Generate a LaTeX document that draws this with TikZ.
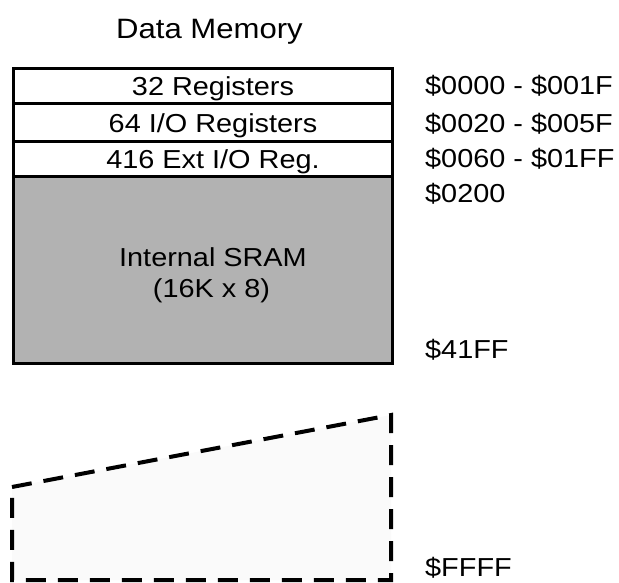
\documentclass[tikz,border=0pt]{standalone}
\usepackage{fontspec}
\setmainfont{Liberation Sans}[FakeStretch=1.11]
\definecolor{srambg}{RGB}{178,178,178}
\definecolor{extbg}{RGB}{250,250,250}
\begin{document}
\begin{tikzpicture}[x=1pt,y=-1pt,
  lbl/.style={font=\fontsize{26}{30}\selectfont, inner sep=0pt, anchor=base},
  regrow/.style={draw, line width=3pt, minimum width=379pt, inner sep=0pt},
  addr/.style={lbl, anchor=base west},
  extmem/.style={draw, line width=4pt, dash pattern=on 20pt off 12pt, fill=extbg}
]
\useasboundingbox (0,0) rectangle (619,582);
\node[lbl, font=\fontsize{28}{30}\selectfont] (title) at (209.5,38) {Data Memory};
% SRAM block
\node[regrow, fill=srambg, minimum height=187pt] (sram) at (202.5,269.5) {};
\node[regrow, minimum height=35pt] (r3) at (202.5,158.5) {};
\node[regrow, minimum height=38pt] (r2) at (202.5,122) {};
\node[regrow, minimum height=35pt] (r1) at (202.5,85.5) {};
\node[lbl] (t1) at (213,95) {32 Registers};
\node[lbl] (t2) at (213,132) {64 I/O Registers};
\node[lbl] (t3) at (213,168) {416 Ext I/O Reg.};
\node[lbl] (t4) at (213,266.5) {Internal SRAM};
\node[lbl] (t5) at (211.5,297) {(16K x 8)};
% external memory
\draw[extmem] (12,487) -- (391,415) -- (391,580) -- (12,580) -- cycle;
% addresses
\node[addr] (a1) at (425,94) {\$0000 - \$001F};
\node[addr] (a2) at (425,132.5) {\$0020 - \$005F};
\node[addr] (a3) at (425,167.5) {\$0060 - \$01FF};
\node[addr] (a4) at (425,202) {\$0200};
\node[addr] (a5) at (425,358.5) {\$41FF};
\node[addr] (a6) at (425,576) {\$FFFF};
\end{tikzpicture}
\end{document}
